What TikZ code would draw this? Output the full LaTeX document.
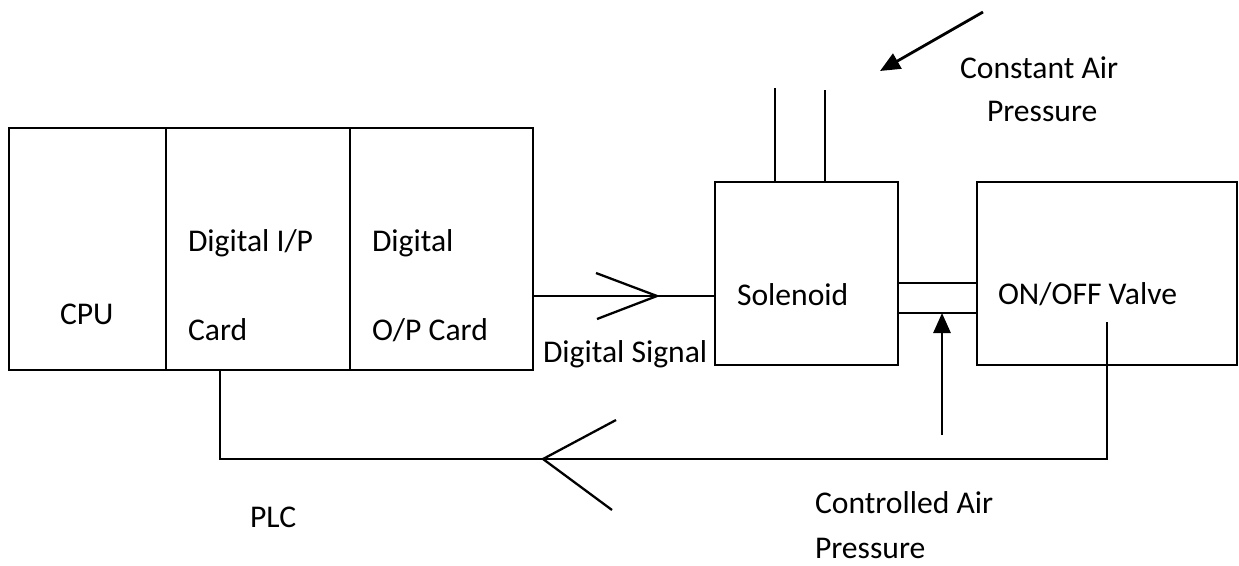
\documentclass[tikz,border=0pt]{standalone}
\usepackage{fontspec}
\setmainfont{Carlito}
\usetikzlibrary{arrows.meta,positioning}

\begin{document}
\begin{tikzpicture}[
  x=0.02cm,y=-0.02cm,
  every node/.style={font=\fontsize{18}{22}\selectfont,inner sep=0pt,outer sep=0pt},
  label/.style={anchor=base west},
  unit/.style={draw,line width=1.6pt,minimum height=4.84cm,anchor=north west},
  device/.style={draw,line width=1.6pt,minimum height=3.66cm,anchor=north west},
  wire/.style={line width=1.6pt},
  barb/.style={line width=1.3pt},
  air/.style={line width=1.6pt,-{Triangle[length=4mm,width=3.4mm]}}
]
\useasboundingbox (0,0) rectangle (1239,565);
% PLC rack
\node[unit,minimum width=3.14cm] (cpu) at (9,128) {};
\node[unit,minimum width=3.68cm] (dip) at (cpu.north east) {};
\node[unit,minimum width=3.66cm] (dop) at (dip.north east) {};
\node[label] (cputxt) at (60,324) {CPU};
\node[label] (diptxt) at (188,251) {Digital I/P};
\node[label] (dipcard) at (188,340) {Card};
\node[label] (doptxt) at (372,251) {Digital};
\node[label] (dopcard) at (372,340) {O/P Card};
\node[label] (plctxt) at (250,527) {PLC};
% field devices
\node[device,minimum width=3.66cm] (sol) at (715,182) {};
\node[device,minimum width=5.2cm] (valve) at (977,182) {};
\node[label] (soltxt) at (737,305) {Solenoid};
\node[label] (valvetxt) at (998,304) {ON/OFF Valve};
\node[label] (sigtxt) at (543,362) {Digital Signal};
\node[label] (caitxt) at (960,78) {Constant Air};
\node[label] (captxt) at (987,121) {Pressure};
\node[label] (coatxt) at (815,513) {Controlled Air};
\node[label] (coptxt) at (815,558) {Pressure};
% digital signal
\coordinate (sigin) at (715,296);
\coordinate (sigtip) at (657,296);
\draw[wire] (sigin -| dop.east) -- (sigin);
\draw[barb] ([shift={(-61,-23)}]sigtip) -- (sigtip) -- ([shift={(-60,23)}]sigtip);
% air supply ports
\coordinate (porta) at (775,88);
\coordinate (portb) at (825,90);
\draw[wire] (porta) -- (porta |- sol.north);
\draw[wire] (portb) -- (portb |- sol.north);
\coordinate (supply) at (983,12);
\coordinate (supplytip) at (880,71);
\draw[air] (supply) -- (supplytip);
% pipe solenoid to valve
\coordinate (pipetop) at (0,283);
\coordinate (pipebot) at (0,313);
\draw[wire] (pipetop -| sol.east) -- (pipetop -| valve.west);
\draw[wire] (pipebot -| sol.east) -- (pipebot -| valve.west);
\coordinate (ctrl) at (942,435);
\draw[air] (ctrl) -- (ctrl |- pipebot);
% feedback
\coordinate (vtap) at (1107,322);
\coordinate (fbtip) at (543,459);
\coordinate (plctap) at (220,0);
\draw[wire] (vtap) -- (vtap |- fbtip) -- (plctap |- fbtip) -- (plctap |- dip.south);
\draw[barb] ([shift={(73,-39)}]fbtip) -- (fbtip) -- ([shift={(69,51)}]fbtip);
\end{tikzpicture}
\end{document}
